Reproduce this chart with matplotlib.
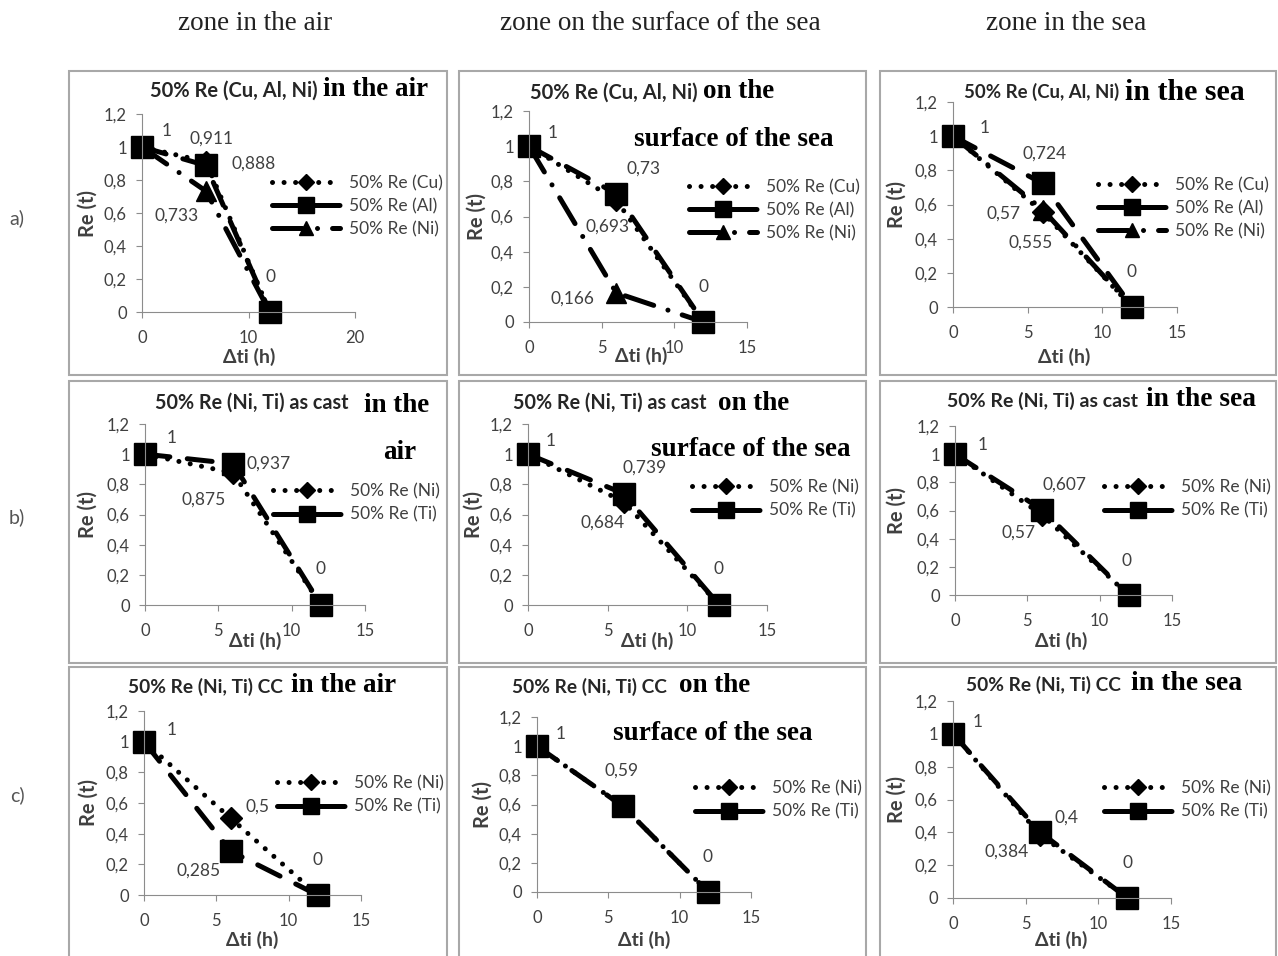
import matplotlib
matplotlib.use("Agg")
import matplotlib.pyplot as plt
from matplotlib.patches import Rectangle
from matplotlib.ticker import FuncFormatter

# time of exposure (h)
hours = [0, 6, 12]

# row a) 50% Re (Cu, Al, Ni)
air_cu = [1, 0.911, 0]
air_al = [1, 0.888, 0]
air_ni = [1, 0.733, 0]
surf_cu = [1, 0.693, 0]
surf_al = [1, 0.73, 0]
surf_ni = [1, 0.166, 0]
sea_cu = [1, 0.555, 0]
sea_al = [1, 0.724, 0]
sea_ni = [1, 0.57, 0]

# row b) 50% Re (Ni, Ti) as cast
cast_air_ni = [1, 0.875, 0]
cast_air_ti = [1, 0.937, 0]
cast_surf_ni = [1, 0.684, 0]
cast_surf_ti = [1, 0.739, 0]
cast_sea_ni = [1, 0.57, 0]
cast_sea_ti = [1, 0.607, 0]

# row c) 50% Re (Ni, Ti) CC
cc_air_ni = [1, 0.5, 0]
cc_air_ti = [1, 0.285, 0]
cc_surf_ni = [1, 0.59, 0]
cc_surf_ti = [1, 0.59, 0]
cc_sea_ni = [1, 0.384, 0]
cc_sea_ti = [1, 0.4, 0]

zones = ["zone in the air", "zone on the surface of the sea", "zone in the sea"]
rows = ["a)", "b)", "c)"]

W, H = 1278, 956
SANS = ["Lato", "DejaVu Sans"]
SERIF = ["Liberation Serif", "DejaVu Serif"]
GREY = "#404040"


def fx(px):
    return px / W


def fy(py):
    return 1 - py / H


def comma(v, pos=None):
    return ("%g" % v).replace(".", ",")


dotted = dict(marker="D", ms=11, dashes=(0.01, 2.3))
dashed = dict(marker="s", ms=16, dashes=(5, 3.5))
dashdot = dict(marker="^", ms=14, dashes=(6, 3, 0.01, 3))

# panel layout: axes box in pixels (x0, x1, y at 1.2, y at 0), x max,
# series, legend anchor, x label centre, y label x, data label offsets,
# title pieces (text, left x, centre y, kind, size)
panels = [
    dict(box=(142, 355, 114, 312), xmax=20,
         series=[("50% Re (Cu)", air_cu, dotted), ("50% Re (Al)", air_al, dashed),
                 ("50% Re (Ni)", air_ni, dashdot)],
         leg=(272, 206), xl=(249, 357), yl=88,
         labels=[(0, 0, 25, 16), (0, 2, 1, 35), (0, 1, 6, 23), (1, 1, 48, 2), (2, 1, -29, -25)],
         title=[("50% Re (Cu, Al, Ni)", 150, 91, "sans", 14.5),
                ("in the air", 323, 90, "serif", 19.5)]),
    dict(box=(529, 747, 111, 322), xmax=15,
         series=[("50% Re (Cu)", surf_cu, dotted), ("50% Re (Al)", surf_al, dashed),
                 ("50% Re (Ni)", surf_ni, dashdot)],
         leg=(689, 210), xl=(641, 356), yl=477,
         labels=[(0, 0, 24, 13), (0, 2, 0, 35), (0, 1, -9, -26), (1, 1, 27, 25), (2, 1, -44, -6)],
         title=[("50% Re (Cu, Al, Ni)", 530, 93, "sans", 14.5),
                ("on the", 703, 92, "serif", 19.5),
                ("surface of the sea", 634, 139, "serif", 19.5)]),
    dict(box=(953, 1177, 102, 307), xmax=15,
         series=[("50% Re (Cu)", sea_cu, dotted), ("50% Re (Al)", sea_al, dashed),
                 ("50% Re (Ni)", sea_ni, dashdot)],
         leg=(1098, 208), xl=(1064, 357), yl=897,
         labels=[(0, 0, 32, 8), (0, 2, -1, 35), (1, 1, 2, 30), (2, 1, -39, -4), (0, 1, -12, -30)],
         title=[("50% Re (Cu, Al, Ni)", 964, 92, "sans", 13.4),
                ("in the sea", 1125, 92, "serif", 21.5)]),
    dict(box=(145, 365, 424, 605), xmax=15,
         series=[("50% Re (Ni)", cast_air_ni, dotted), ("50% Re (Ti)", cast_air_ti, dashed)],
         leg=(273, 503), xl=(255, 641), yl=88,
         labels=[(0, 0, 27, 16), (0, 2, 0, 36), (1, 1, 36, 0), (0, 1, -29, -27)],
         title=[("50% Re (Ni, Ti) as cast", 155, 403, "sans", 14.2),
                ("in the", 364, 406, "serif", 19.5),
                ("air", 383, 452, "serif", 19.5)]),
    dict(box=(528, 767, 424, 605), xmax=15,
         series=[("50% Re (Ni)", cast_surf_ni, dotted), ("50% Re (Ti)", cast_surf_ti, dashed)],
         leg=(692, 499), xl=(647, 641), yl=474,
         labels=[(0, 0, 23, 13), (0, 2, -1, 36), (1, 1, 21, 26), (0, 1, -21, -21)],
         title=[("50% Re (Ni, Ti) as cast", 513, 403, "sans", 14.2),
                ("on the", 718, 404, "serif", 19.5),
                ("surface of the sea", 651, 450, "serif", 19.5)]),
    dict(box=(955, 1172, 426, 595), xmax=15,
         series=[("50% Re (Ni)", cast_sea_ni, dotted), ("50% Re (Ti)", cast_sea_ti, dashed)],
         leg=(1104, 499), xl=(1061, 641), yl=897,
         labels=[(0, 0, 28, 9), (0, 2, -2, 34), (1, 1, 23, 25), (0, 1, -23, -18)],
         title=[("50% Re (Ni, Ti) as cast", 947, 401, "sans", 14),
                ("in the sea", 1146, 400, "serif", 19.8)]),
    dict(box=(144, 361, 711, 895), xmax=15,
         series=[("50% Re (Ni)", cc_air_ni, dotted), ("50% Re (Ti)", cc_air_ti, dashed)],
         leg=(277, 795), xl=(252, 940), yl=89,
         labels=[(0, 0, 28, 12), (0, 2, 0, 35), (0, 1, 27, 12), (1, 1, -32, -19)],
         title=[("50% Re (Ni, Ti) CC", 128, 687, "sans", 13.8),
                ("in the air", 291, 686, "serif", 19.5)]),
    dict(box=(537, 751, 717, 892), xmax=15,
         series=[("50% Re (Ni)", cc_surf_ni, dotted), ("50% Re (Ti)", cc_surf_ti, dashed)],
         leg=(695, 800), xl=(644, 940), yl=483,
         labels=[(0, 0, 24, 12), (0, 2, -1, 35), (1, 1, -1, 35)],
         title=[("50% Re (Ni, Ti) CC", 512, 687, "sans", 13.8),
                ("on the", 679, 686, "serif", 19.5),
                ("surface of the sea", 613, 733, "serif", 19.5)]),
    dict(box=(953, 1171, 701, 898), xmax=15,
         series=[("50% Re (Ni)", cc_sea_ni, dotted), ("50% Re (Ti)", cc_sea_ti, dashed)],
         leg=(1104, 800), xl=(1061, 940), yl=897,
         labels=[(0, 0, 25, 12), (0, 2, 0, 35), (1, 1, 26, 15), (0, 1, -34, -17)],
         title=[("50% Re (Ni, Ti) CC", 966, 685, "sans", 13.8),
                ("in the sea", 1131, 683, "serif", 20)]),
]

frames = [(69, 447, 71, 375), (459, 866, 71, 375), (880, 1276, 71, 375),
          (69, 447, 381, 663), (459, 866, 381, 663), (880, 1276, 381, 663),
          (69, 447, 667, 962), (459, 866, 667, 962), (880, 1276, 667, 962)]

fig = plt.figure(figsize=(W / 100, H / 100), dpi=100)

for (x0, x1, y0, y1) in frames:
    fig.add_artist(Rectangle((fx(x0), fy(y1)), (x1 - x0) / W, (y1 - y0) / H,
                             transform=fig.transFigure, fill=False,
                             ec="#a8a8a8", lw=1.5))

for p in panels:
    x0, x1, ytop, ybot = p["box"]
    ax = fig.add_axes([fx(x0), fy(ybot), (x1 - x0) / W, (ybot - ytop) / H])
    ax.set_xlim(0, p["xmax"])
    ax.set_ylim(0, 1.2)
    ax.set_xticks(range(0, p["xmax"] + 1, 5 if p["xmax"] == 15 else 10))
    ax.set_yticks([0, 0.2, 0.4, 0.6, 0.8, 1.0, 1.2])
    ax.yaxis.set_major_formatter(FuncFormatter(comma))
    for s in ["top", "right"]:
        ax.spines[s].set_visible(False)
    for s in ["left", "bottom"]:
        ax.spines[s].set_color("#8c8c8c")
    ax.tick_params(length=4, color="#8c8c8c", labelcolor=GREY, labelsize=12)
    ax.tick_params(axis="x", pad=9)
    ax.tick_params(axis="y", pad=7)
    for t in ax.get_xticklabels() + ax.get_yticklabels():
        t.set_family(SANS)
    ax.patch.set_alpha(0)

    handles = []
    for name, vals, st in p["series"]:
        ln, = ax.plot(hours, vals, color="black", lw=3.6, marker=st["marker"],
                      ms=st["ms"], dashes=st["dashes"], dash_capstyle="round",
                      clip_on=False, label=name)
        handles.append(ln)

    for si, pi, dx, dy in p["labels"]:
        v = p["series"][si][1][pi]
        ax.annotate(comma(v), (hours[pi], v), xytext=(dx, dy),
                    textcoords="offset pixels", ha="center", va="center",
                    fontsize=12.5, color=GREY, family=SANS)

    leg = ax.legend(handles=handles, loc="center left",
                    bbox_to_anchor=(fx(p["leg"][0]), fy(p["leg"][1])),
                    bbox_transform=fig.transFigure, frameon=False,
                    borderpad=0, borderaxespad=0, handlelength=3.9,
                    handletextpad=0.55, labelspacing=0.4, markerscale=0.75,
                    prop={"family": SANS, "size": 12.5})
    for t in leg.get_texts():
        t.set_color(GREY)

    ax.set_xlabel("Δti (h)", fontsize=14, fontweight="bold", color=GREY,
                  family=SANS, va="center")
    ax.xaxis.set_label_coords(fx(p["xl"][0]), fy(p["xl"][1]), transform=fig.transFigure)
    ax.set_ylabel("Re (t)", fontsize=14.5, fontweight="bold", color=GREY,
                  family=SANS, va="center")
    ax.yaxis.set_label_coords(fx(p["yl"]), fy((ytop + ybot) / 2), transform=fig.transFigure)

    for text, tx, ty, kind, size in p["title"]:
        if kind == "sans":
            fig.text(fx(tx), fy(ty), text, ha="left", va="center", fontsize=size,
                     fontweight="bold", family=SANS, color="#262626")
        else:
            fig.text(fx(tx), fy(ty), text, ha="left", va="center", fontsize=size,
                     fontweight="bold", family=SERIF, color="black")

for name, cx in zip(zones, [255, 660, 1066]):
    fig.text(fx(cx), fy(23), name, ha="center", va="center", fontsize=19.5,
             family=SERIF, color="#222222")

for name, cy in zip(rows, [218, 517, 795]):
    fig.text(fx(17), fy(cy), name, ha="center", va="center", fontsize=14,
             family=SANS, color="#555555")

fig.savefig("out.png", dpi=100)
